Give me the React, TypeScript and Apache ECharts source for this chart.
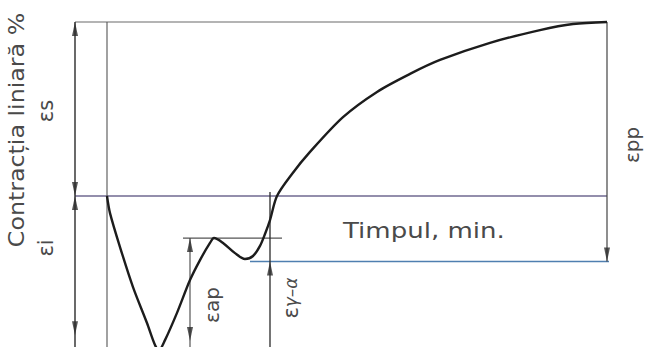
import React, { useEffect, useRef } from "react";
import * as echarts from "echarts";

// Linear contraction (%) of the casting against time (min)
const timeMin = [
  0, 0.75, 3.25, 6.5, 10, 12, 13, 14.5, 17.5, 20.75, 23.25, 25.75, 26.75, 29,
  32, 34.5, 36.5, 38.25, 39.5, 40.75, 42.5, 46.25, 50.75, 59, 67.5, 75.75,
  83.25, 95.75, 108.25, 116.5, 125,
];
const contraction = [
  0, -0.059, -0.176, -0.314, -0.438, -0.514, -0.531, -0.497, -0.403, -0.29,
  -0.221, -0.162, -0.145, -0.162, -0.197, -0.217, -0.207, -0.172, -0.131,
  -0.083, 0, 0.076, 0.152, 0.272, 0.359, 0.421, 0.469, 0.528, 0.572, 0.593,
  0.6,
];

// Characteristic levels of the curve
const finalLevel = 0.6; // total shrinkage εs
const zeroLevel = 0;
const apLevel = -0.145; // pre-shrinkage expansion εap
const gammaAlphaLevel = -0.226; // γ→α transformation εγ-α
const floorLevel = -0.54;

// Times where the dimension lines stand
const tLeft = -8;
const tStart = 0;
const tAp = 20.75;
const tGammaAlpha = 40.75;
const tEnd = 125;

const INK = "#2a2a2a";
const TEXT = "#4a4a4a";
const FONT = "DejaVu Sans";

const upArrow = "path://M0,0 L3,14 L-3,14 Z";
const downArrow = "path://M-3,0 L3,0 L0,14 Z";

function segment(name: string, pts: number[][], color: string, width: number) {
  return {
    name,
    type: "line",
    data: pts,
    showSymbol: false,
    symbol: "none",
    clip: false,
    silent: true,
    lineStyle: { color, width },
    z: 2,
  };
}

function vText(text: string, x: number, y: number, size: number, stretch = 1) {
  return {
    type: "text",
    x,
    y,
    rotation: Math.PI / 2,
    scaleX: stretch,
    style: {
      text,
      fontSize: size,
      fontFamily: FONT,
      fill: TEXT,
      align: "center",
      verticalAlign: "middle",
    },
  };
}

export default function App() {
  const ref = useRef<HTMLDivElement>(null);

  useEffect(() => {
    if (!ref.current) return;
    const chart = echarts.init(ref.current, undefined, { renderer: "svg" });

    const upTips = [
      [tLeft, finalLevel],
      [tLeft, zeroLevel],
      [tAp, apLevel],
      [tGammaAlpha, gammaAlphaLevel],
    ];
    const downTips = [
      [tLeft, zeroLevel],
      [tLeft, -0.48],
      [tAp, -0.5],
      [tEnd, gammaAlphaLevel],
    ];

    chart.setOption({
      animation: false,
      backgroundColor: "#ffffff",
      grid: { left: 75, right: 44, top: 22, bottom: 6, containLabel: false },
      xAxis: { type: "value", min: -8, max: 125, show: false },
      yAxis: { type: "value", min: -0.5, max: 0.6, show: false },
      series: [
        segment("top", [[tLeft, finalLevel], [tEnd, finalLevel]], "#6a6a6a", 1.2),
        segment("time axis", [[tLeft, zeroLevel], [tEnd, zeroLevel]], "#6f6890", 1.4),
        segment("ap level", [[19, apLevel], [43.75, apLevel]], "#555555", 1.2),
        segment("γ-α level", [[35.75, gammaAlphaLevel], [125.75, gammaAlphaLevel]], "#4f7fb0", 1.5),
        segment("εs/εi", [[tLeft, finalLevel], [tLeft, floorLevel]], INK, 1.4),
        segment("start", [[tStart, finalLevel], [tStart, floorLevel]], "#555555", 1.1),
        segment("εpp", [[tEnd, finalLevel], [tEnd, gammaAlphaLevel]], "#444444", 1.2),
        segment("εap", [[tAp, apLevel], [tAp, floorLevel]], "#444444", 1.1),
        segment("εγ-α", [[tGammaAlpha, 0.014], [tGammaAlpha, floorLevel]], INK, 1.3),
        {
          name: "contraction",
          type: "line",
          data: timeMin.map((t, i) => [t, contraction[i]]),
          smooth: 0.3,
          showSymbol: false,
          symbol: "none",
          clip: false,
          lineStyle: { color: "#1c1c1c", width: 2.4 },
          z: 5,
        },
        {
          name: "arrow up",
          type: "scatter",
          data: upTips,
          symbol: upArrow,
          symbolSize: [6, 14],
          symbolOffset: [0, 7],
          itemStyle: { color: INK },
          clip: false,
          silent: true,
          z: 4,
        },
        {
          name: "arrow down",
          type: "scatter",
          data: downTips,
          symbol: downArrow,
          symbolSize: [6, 14],
          symbolOffset: [0, -7],
          itemStyle: { color: INK },
          clip: false,
          silent: true,
          z: 4,
        },
      ],
      graphic: [
        vText("Contracția liniară %", 17, 130, 21, 1.13),
        vText("εs", 46, 111, 21),
        vText("εi", 46, 248, 21),
        {
          type: "text",
          x: 343,
          y: 231,
          scaleX: 1.24,
          style: {
            text: "Timpul, min.",
            fontSize: 21,
            fontFamily: FONT,
            fill: TEXT,
            align: "left",
            verticalAlign: "middle",
          },
        },
        vText("εap", 212, 305, 20),
        {
          type: "text",
          x: 291,
          y: 298,
          rotation: Math.PI / 2,
          style: {
            text: "{e|ε}{s|γ–α}",
            fontFamily: FONT,
            fill: TEXT,
            align: "center",
            verticalAlign: "middle",
            rich: {
              e: { fontSize: 21, fill: TEXT, fontFamily: FONT },
              s: { fontSize: 17, fill: TEXT, fontStyle: "italic", fontFamily: FONT },
            },
          },
        },
        vText("εpp", 632, 145, 20),
      ],
    });

    return () => chart.dispose();
  }, []);

  return (
    <div
      ref={ref}
      style={{ position: "absolute", left: 0, top: 0, width: 651, height: 347 }}
    />
  );
}
